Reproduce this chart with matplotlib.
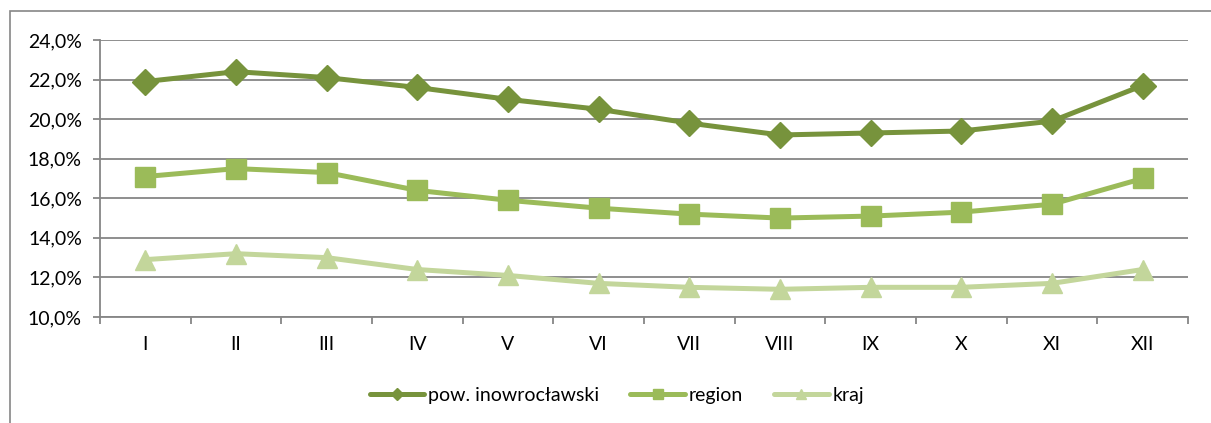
import matplotlib
matplotlib.use("Agg")
import matplotlib.pyplot as plt
from matplotlib.ticker import FuncFormatter, FixedLocator
from matplotlib.patches import Rectangle

months = ["I", "II", "III", "IV", "V", "VI", "VII", "VIII", "IX", "X", "XI", "XII"]
pow_ino = [21.9, 22.4, 22.1, 21.6, 21.0, 20.5, 19.8, 19.2, 19.3, 19.4, 19.9, 21.7]
region = [17.1, 17.5, 17.3, 16.4, 15.9, 15.5, 15.2, 15.0, 15.1, 15.3, 15.7, 17.0]
kraj = [12.9, 13.2, 13.0, 12.4, 12.1, 11.7, 11.5, 11.4, 11.5, 11.5, 11.7, 12.4]
series_names = ["pow. inowrocławski", "region", "kraj"]

plt.rcParams['font.family'] = ['Lato', 'DejaVu Sans']
FS = 14

fig = plt.figure(figsize=(12.11, 4.23), dpi=100)
fig.patches.append(Rectangle((10/1211, -0.2), 1.2, 1 - 11/423 + 0.2, transform=fig.transFigure,
                             fill=False, edgecolor="#868686", linewidth=1.2, zorder=0))

ax = fig.add_axes([100/1211, 1 - 317/423, 1088/1211, 277/423])
x = list(range(len(months)))
ax.plot(x, pow_ino, color="#77933C", lw=3.6, marker="D", ms=13, label=series_names[0], solid_capstyle="round")
ax.plot(x, region, color="#9BBB59", lw=3.6, marker="s", ms=14, label=series_names[1], solid_capstyle="round")
ax.plot(x, kraj, color="#C3D69B", lw=3.6, marker="^", ms=15, label=series_names[2], solid_capstyle="round")

ax.set_xlim(-0.5, 11.5)
ax.set_ylim(10, 24)
ax.set_yticks([10, 12, 14, 16, 18, 20, 22, 24])
ax.yaxis.set_major_formatter(FuncFormatter(lambda v, p: f"{v:.1f}%".replace(".", ",")))
ax.grid(axis="y", color="#868686", lw=1.3)
ax.set_axisbelow(True)

ax.xaxis.set_major_locator(FixedLocator([i - 0.5 for i in range(13)]))
ax.xaxis.set_major_formatter(FuncFormatter(lambda v, p: ""))
ax.xaxis.set_minor_locator(FixedLocator(x))
ax.set_xticklabels(months, minor=True)
ax.tick_params(axis="x", which="major", length=5, color="#868686", width=1.3)
ax.tick_params(axis="x", which="minor", length=0, pad=14, labelsize=FS)
ax.tick_params(axis="y", length=5, color="#868686", width=1.3, labelsize=FS, pad=8)

for s in ["top", "right"]:
    ax.spines[s].set_visible(False)
for s in ["left", "bottom"]:
    ax.spines[s].set_color("#868686")
    ax.spines[s].set_linewidth(1.3)

leg = fig.legend(loc="center", bbox_to_anchor=(617/1211, 1 - 395/423), ncol=3, frameon=False,
                 fontsize=FS, handlelength=2.8, columnspacing=1.6, handletextpad=0.2, markerscale=0.5)

fig.savefig("out.png", dpi=100)
